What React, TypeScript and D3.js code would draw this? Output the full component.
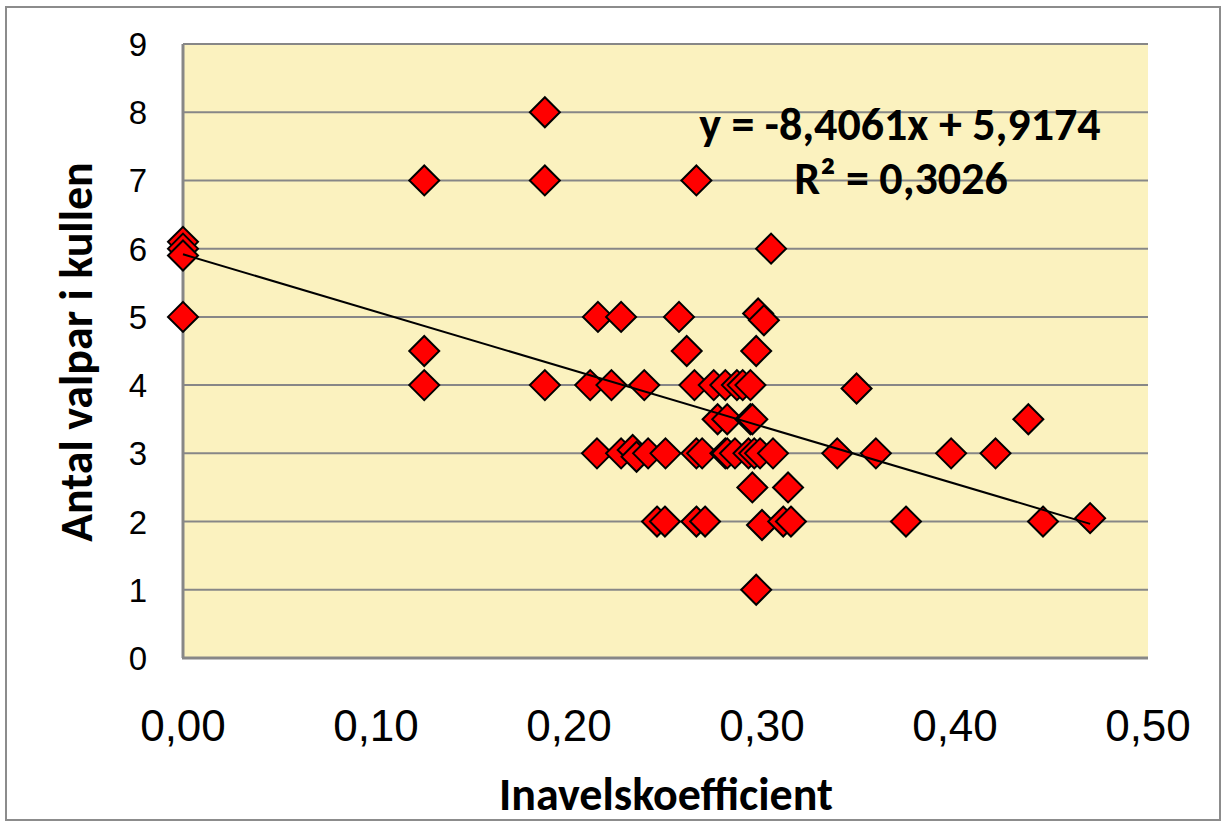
import React from "react";
import * as d3 from "d3";

const inbreeding: number[] = [
  0, 0, 0, 0,
  0.125, 0.125, 0.125,
  0.1875, 0.1875, 0.1875,
  0.211, 0.222, 0.239, 0.265, 0.275, 0.281, 0.287, 0.29, 0.294,
  0.215, 0.227, 0.257, 0.298, 0.301,
  0.261, 0.297,
  0.277, 0.282, 0.294, 0.295, 0.438,
  0.2145, 0.227, 0.233, 0.235, 0.241, 0.25, 0.266, 0.269, 0.281, 0.282, 0.286, 0.293, 0.296, 0.299, 0.3057, 0.339, 0.359, 0.398, 0.421,
  0.295, 0.3135,
  0.2456, 0.2497, 0.266, 0.2705, 0.3, 0.311, 0.315, 0.3746, 0.4456, 0.47,
  0.297,
  0.266,
  0.3047,
  0.349,
];

const puppies: number[] = [
  6.1, 6.0, 5.9, 5,
  7, 4.5, 4,
  8, 7, 4,
  4, 4, 4, 4, 4, 4, 4, 4, 4,
  5, 5, 5, 5.05, 4.95,
  4.5, 4.5,
  3.5, 3.5, 3.5, 3.5, 3.5,
  3, 3, 3.05, 2.95, 3, 3, 3, 3, 3, 3, 3, 3, 3, 3, 3, 3, 3, 3, 3,
  2.5, 2.5,
  2, 2, 2, 2, 1.95, 2, 2, 2, 2, 2.05,
  1,
  7,
  6,
  3.95,
];

const xTicks: number[] = [0, 0.1, 0.2, 0.3, 0.4, 0.5];
const yTicks: number[] = [0, 1, 2, 3, 4, 5, 6, 7, 8, 9];
const slope = -8.4061;
const intercept = 5.9174;
const equationText = "y = -8,4061x + 5,9174";
const r2Text = "R² = 0,3026";
const xTitle = "Inavelskoefficient";
const yTitle = "Antal valpar i kullen";

export default function App() {
  const W = 1223, H = 823;
  const left = 183, right = 1148, top = 44, bottom = 658;
  const x = d3.scaleLinear().domain([0, 0.5]).range([left, right]);
  const y = d3.scaleLinear().domain([0, 9]).range([bottom, top]);
  const fmtX = (v: number) => d3.format(".2f")(v).replace(".", ",");
  const xMax = d3.max(inbreeding) as number;
  const trend = d3.line<number>()
    .x((d) => x(d))
    .y((d) => y(slope * d + intercept));
  const s = 15;
  const diamond = (cx: number, cy: number) =>
    `M${cx},${cy - s}L${cx + s},${cy}L${cx},${cy + s}L${cx - s},${cy}Z`;
  const titleFont = "Carlito, Lato, 'Liberation Sans', sans-serif";
  const tickFont = "'Liberation Sans', Arial, sans-serif";
  return (
    <svg width={W} height={H} style={{ position: "absolute", left: 0, top: 0 }}>
      <rect x={0} y={0} width={W} height={H} fill="#ffffff" />
      <rect x={6} y={7} width={1214} height={813} fill="none" stroke="#8c8c8c" strokeWidth={2} />
      <rect x={left} y={top} width={right - left} height={bottom - top} fill="#FBF2BF" />
      {yTicks.map((t) => (
        <line key={"g" + t} x1={left} x2={right} y1={y(t)} y2={y(t)} stroke="#878787" strokeWidth={2} />
      ))}
      <line x1={left} x2={left} y1={top} y2={bottom} stroke="#878787" strokeWidth={3} />
      <line x1={left - 1} x2={right} y1={bottom} y2={bottom} stroke="#878787" strokeWidth={3} />
      {yTicks.map((t) => (
        <text key={"y" + t} x={147} y={y(t) + 12} textAnchor="end" fontFamily={tickFont} fontSize={33} fill="#000">
          {t}
        </text>
      ))}
      {xTicks.map((t) => (
        <text key={"x" + t} x={x(t)} y={741} textAnchor="middle" fontFamily={tickFont} fontSize={44} fill="#000">
          {fmtX(t)}
        </text>
      ))}
      {inbreeding.map((v, i) => (
        <path key={"p" + i} d={diamond(x(v), y(puppies[i]))} fill="#ff0000" stroke="#000" strokeWidth={2} strokeLinejoin="miter" />
      ))}
      <path d={trend([0, xMax]) || ""} fill="none" stroke="#000" strokeWidth={2} />
      <text x={900} y={140} textAnchor="middle" fontFamily={titleFont} fontWeight="bold" fontSize={46} fill="#000">
        {equationText}
      </text>
      <text x={901} y={194} textAnchor="middle" fontFamily={titleFont} fontWeight="bold" fontSize={46} fill="#000">
        {r2Text}
      </text>
      <text x={666} y={810} textAnchor="middle" fontFamily={titleFont} fontWeight="bold" fontSize={46} fill="#000">
        {xTitle}
      </text>
      <text transform={`translate(92,352) rotate(-90)`} textAnchor="middle" fontFamily={titleFont} fontWeight="bold" fontSize={46} fill="#000">
        {yTitle}
      </text>
    </svg>
  );
}
